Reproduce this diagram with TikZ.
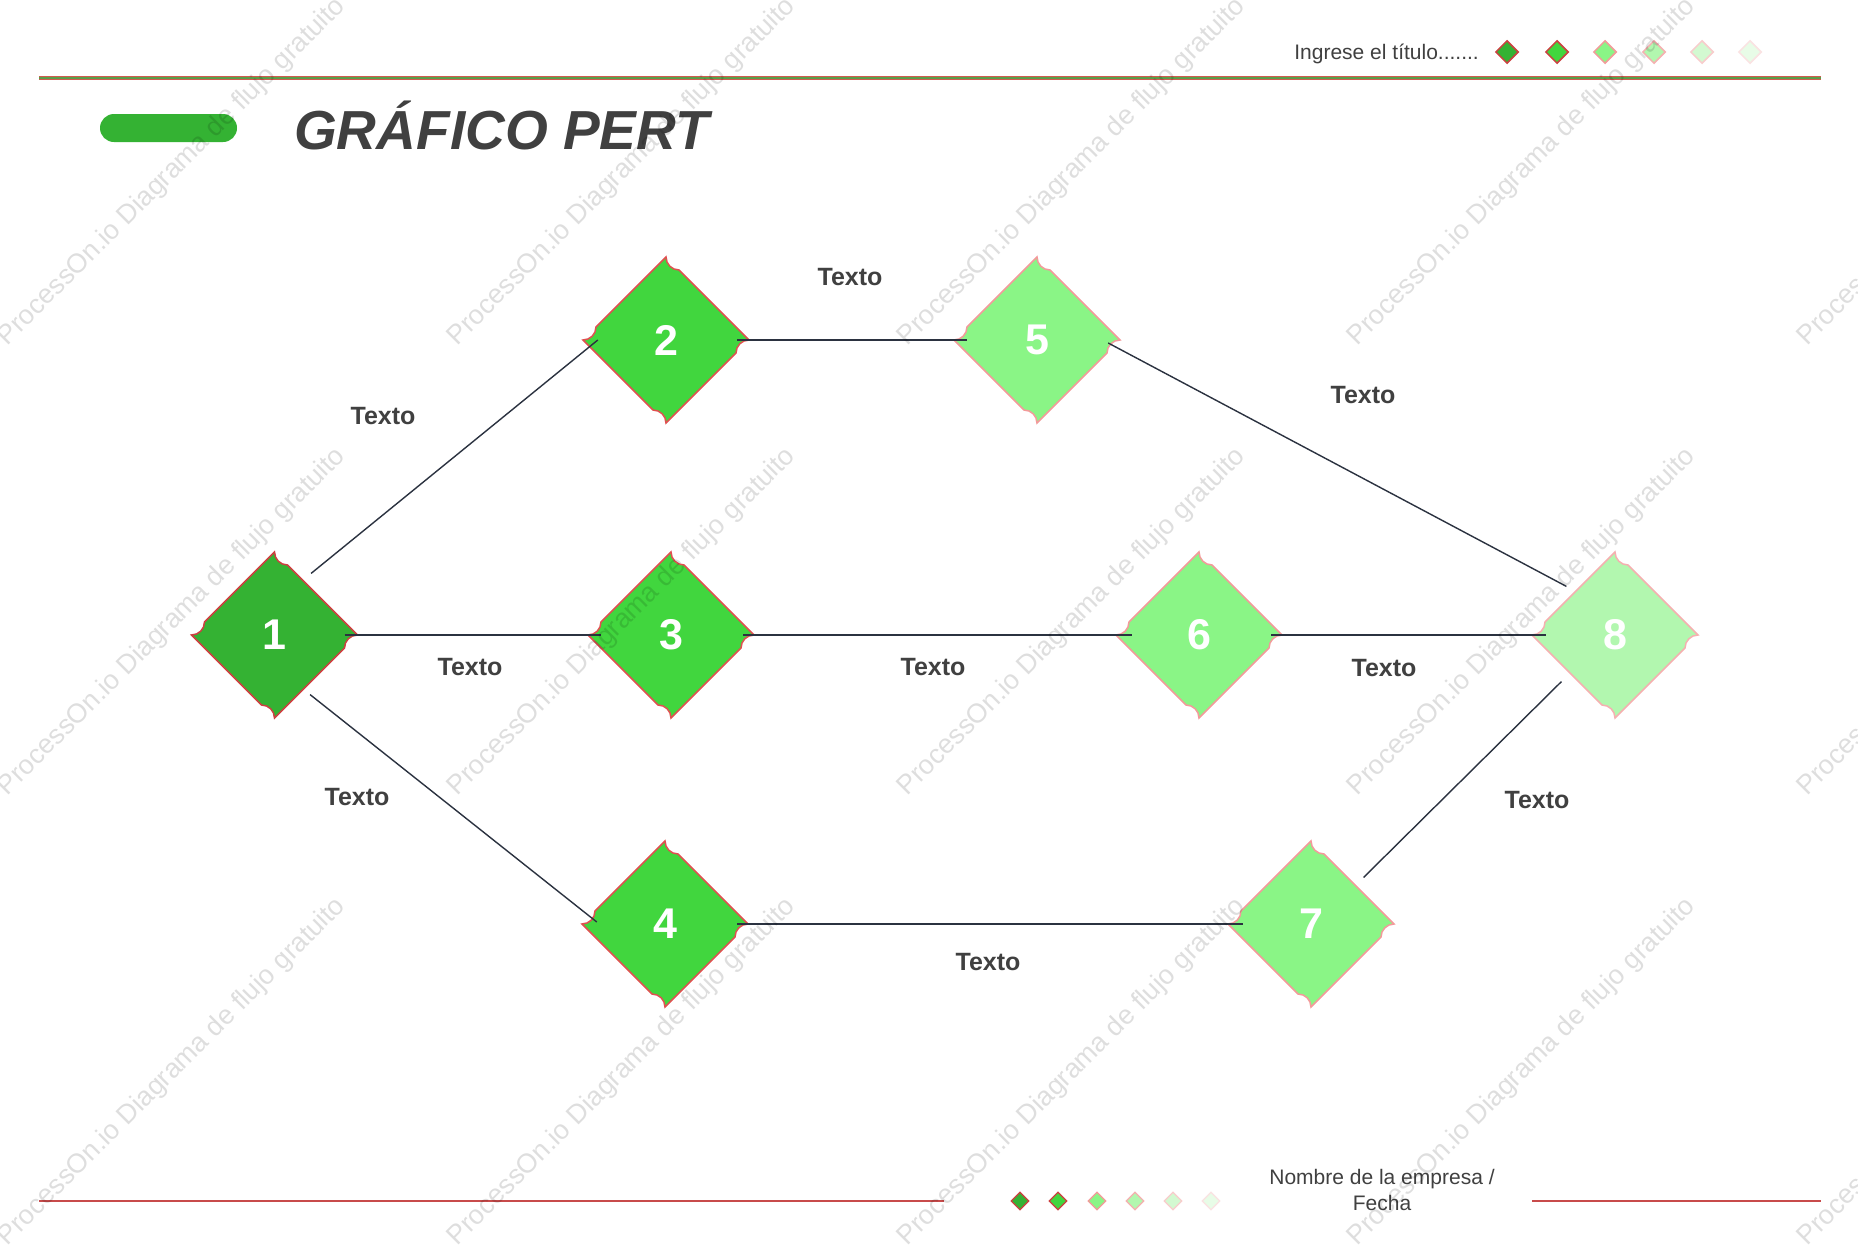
\documentclass[tikz,border=0pt]{standalone}
\usepackage{fontspec}
\setmainfont{Liberation Sans}
\usetikzlibrary{shapes.geometric}
\definecolor{gA}{HTML}{34B233}
\definecolor{gB}{HTML}{41D63E}
\definecolor{gC}{HTML}{8AF586}
\definecolor{gD}{HTML}{B2F7AF}
\definecolor{gE}{HTML}{D3F9D1}
\definecolor{gF}{HTML}{E8FCE7}
\definecolor{rA}{HTML}{CC4040}
\definecolor{rB}{HTML}{E05050}
\definecolor{rC}{HTML}{F39A9A}
\definecolor{rD}{HTML}{F5B0B0}
\definecolor{rE}{HTML}{F8CCCC}
\definecolor{rF}{HTML}{FAE2E2}
\definecolor{txtc}{HTML}{404040}
\definecolor{linec}{HTML}{2B3240}
\definecolor{topred}{HTML}{D05A50}
\definecolor{topgreen}{HTML}{5A9E48}
\definecolor{botred}{HTML}{C84B4B}
\newcommand\pertnode[6]{%
  \path[fill=#4, draw=#5, line width=1.5pt, shift={(#2,#3)}]
    (0,-83) .. controls (0,-75.8) and (5.8,-70) .. (13,-70) -- (83,0)
    .. controls (75.8,0) and (70,5.8) .. (70,13) -- (0,83)
    .. controls (0,75.8) and (-5.8,70) .. (-13,70) -- (-83,0)
    .. controls (-75.8,0) and (-70,-5.8) .. (-70,-13) -- cycle;
  \node[anchorbox] (#1) at (#2,#3) {};
  \node[num] (#1t) at (#2,#3) {#6};
}
\tikzset{
  conn/.style={draw=linec, line width=1.4pt},
  lbl/.style={font=\fontsize{25}{28}\selectfont\bfseries, text=txtc, inner sep=0pt},
  num/.style={font=\fontsize{43}{46}\selectfont\bfseries, text=white, inner sep=0pt},
  anchorbox/.style={diamond, minimum width=166pt, minimum height=166pt, inner sep=0pt},
  legd/.style={diamond, minimum width=23pt, minimum height=23pt, inner sep=0pt, line width=1.5pt},
  legs/.style={diamond, minimum width=18pt, minimum height=18pt, inner sep=0pt, line width=1.3pt},
  wm/.style={font=\fontsize{27}{30}\selectfont, text=black, text opacity=0.13, rotate=45, inner sep=0pt},
  small/.style={font=\fontsize{21}{26}\selectfont, text=txtc, inner sep=0pt},
}
\begin{document}
\begin{tikzpicture}[x=1pt,y=-1pt]
\useasboundingbox (0,0) rectangle (1858,1253);
\clip (0,0) rectangle (1858,1253);
\fill[white] (0,0) rectangle (1858,1253);

% header
\draw[topred, line width=4pt] (39,78) -- (1821,78);
\draw[topgreen, line width=1.6pt] (39,78) -- (1821,78);
\node[small, anchor=base east] (hdr) at (1479,59) {Ingrese el título.......};
\node[legd, fill=gA, draw=rA] (t1) at (1507,52) {};
\node[legd, fill=gB, draw=rA] (t2) at (1557,52) {};
\node[legd, fill=gC, draw=rC] (t3) at (1605,52) {};
\node[legd, fill=gD, draw=rD] (t4) at (1654,52) {};
\node[legd, fill=gE, draw=rE] (t5) at (1702,52) {};
\node[legd, fill=gF, draw=rF] (t6) at (1750,52) {};

% title
\fill[gA, rounded corners=14pt] (100,114) rectangle (237,142);
\node[font=\fontsize{55}{60}\selectfont\bfseries\itshape, text=txtc, anchor=base west, inner sep=0pt] (title) at (294,149) {GRÁFICO PERT};

% nodes
\pertnode{n1}{274.5}{635}{gA}{rA}{1}
\pertnode{n2}{666}{340}{gB}{rB}{2}
\pertnode{n3}{671}{635}{gB}{rB}{3}
\pertnode{n4}{665}{924}{gB}{rB}{4}
\pertnode{n5}{1037}{340}{gC}{rC}{5}
\pertnode{n6}{1199}{635}{gC}{rC}{6}
\pertnode{n7}{1311}{924}{gC}{rC}{7}
\pertnode{n8}{1615}{635}{gD}{rD}{8}

% connectors
\draw[conn] ([xshift=-5pt,yshift=20pt]n1.north east) -- ([xshift=15pt]n2.west);
\draw[conn] ([xshift=-13pt]n1.east) -- ([xshift=13pt]n3.west);
\draw[conn] ([xshift=-6pt,yshift=-18pt]n1.south east) -- ([xshift=15pt,yshift=2pt]n4.west);
\draw[conn] ([xshift=-12pt]n2.east) -- ([xshift=13pt]n5.west);
\draw[conn] ([xshift=-12pt,yshift=-3pt]n5.east) -- ([xshift=-7pt,yshift=7pt]n8.north west);
\draw[conn] ([xshift=-11pt]n3.east) -- ([xshift=16pt]n6.west);
\draw[conn] ([xshift=-11pt]n6.east) -- ([xshift=14pt]n8.west);
\draw[conn] ([xshift=-11pt]n4.east) -- ([xshift=15pt]n7.west);
\draw[conn] ([xshift=11pt,yshift=5pt]n7.north east) -- ([xshift=-12pt,yshift=-5pt]n8.south west);

% labels
\node[lbl] (l12) at (383,416) {Texto};
\node[lbl] (l25) at (850,277) {Texto};
\node[lbl] (l58) at (1363,395) {Texto};
\node[lbl] (l13) at (470,667) {Texto};
\node[lbl] (l36) at (933,667) {Texto};
\node[lbl] (l68) at (1384,668) {Texto};
\node[lbl] (l14) at (357,797) {Texto};
\node[lbl] (l47) at (988,962) {Texto};
\node[lbl] (l78) at (1537,800) {Texto};

% footer
\draw[botred, line width=1.2pt] (39,1201) -- (944,1201);
\draw[botred, line width=1.2pt] (1532,1201) -- (1821,1201);
\node[legs, fill=gA, draw=rA] (b1) at (1020,1201) {};
\node[legs, fill=gB, draw=rA] (b2) at (1058,1201) {};
\node[legs, fill=gC, draw=rC] (b3) at (1097,1201) {};
\node[legs, fill=gD, draw=rD] (b4) at (1135,1201) {};
\node[legs, fill=gE, draw=rE] (b5) at (1173,1201) {};
\node[legs, fill=gF, draw=rF] (b6) at (1211,1201) {};
\node[small, align=center, anchor=center] (foot) at (1382,1190) {Nombre de la empresa /\\Fecha};

% watermark
\foreach \wx in {172,622,1072,1522,1972}{
  \foreach \wy in {172,622,1072}{
    \node[wm] at (\wx,\wy) {ProcessOn.io Diagrama de flujo gratuito};
  }
}
\end{tikzpicture}
\end{document}
